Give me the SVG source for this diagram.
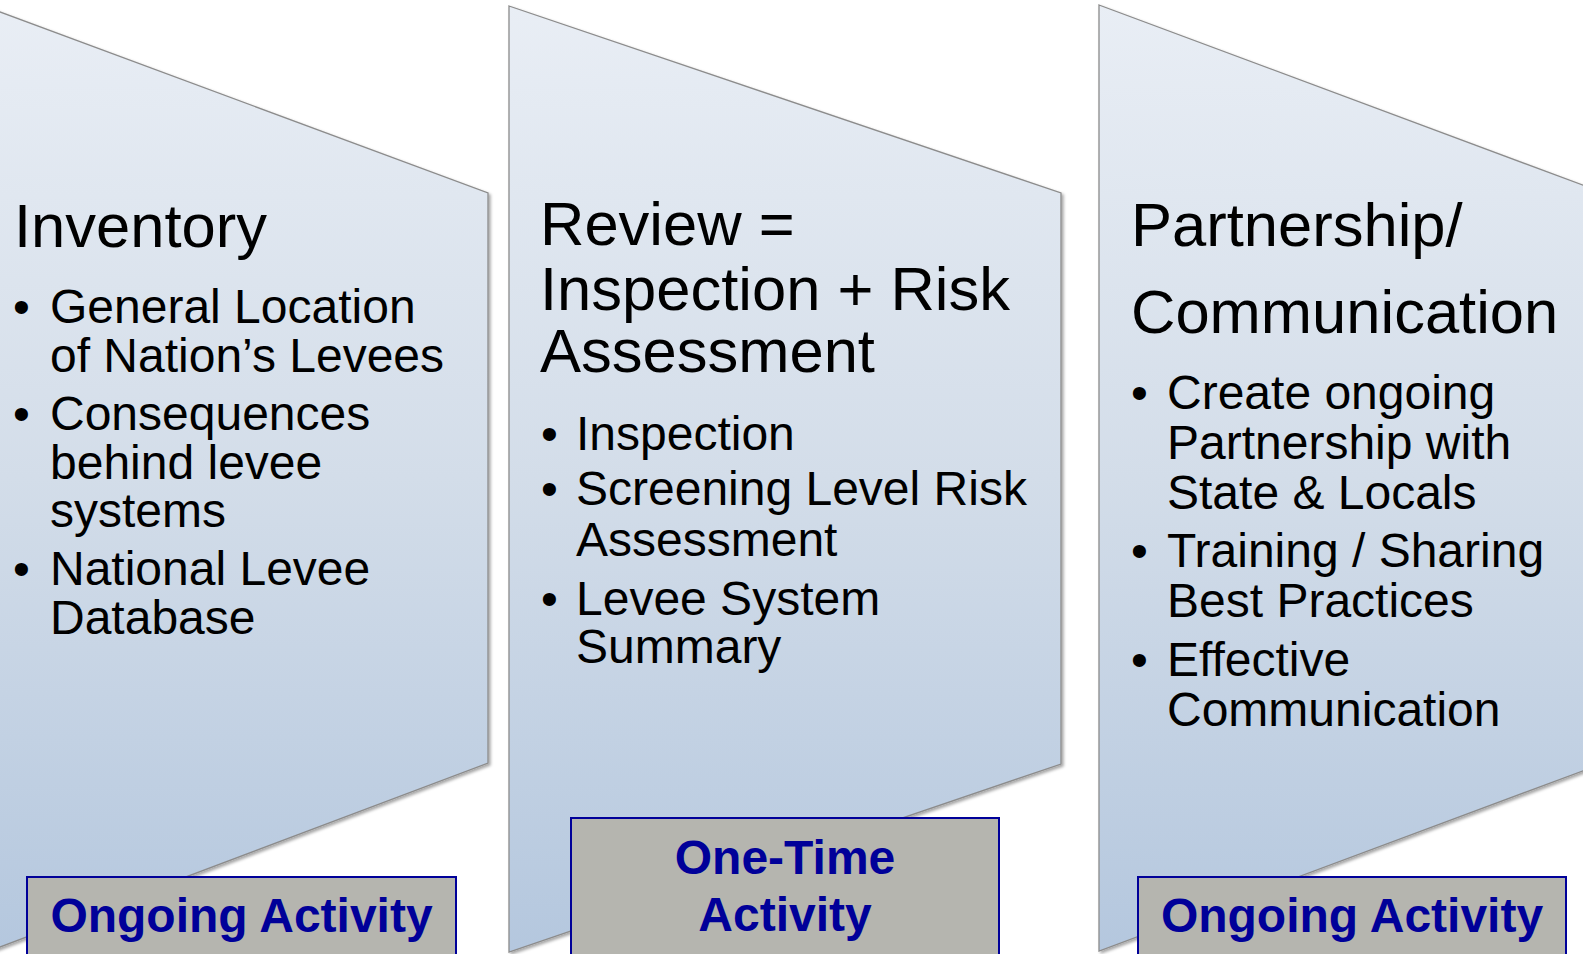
<svg xmlns="http://www.w3.org/2000/svg" width="1583" height="954" viewBox="0 0 1583 954">
<defs>
<linearGradient id="fillGrad" gradientUnits="userSpaceOnUse" x1="0" y1="0" x2="0" y2="954">
<stop offset="0" stop-color="#e9eef5"/>
<stop offset="0.5" stop-color="#d3dde9"/>
<stop offset="1" stop-color="#b4c7de"/>
</linearGradient>
<filter id="shadow" x="-5%" y="-5%" width="115%" height="115%">
<feDropShadow dx="2" dy="2" stdDeviation="1.5" flood-color="#000" flood-opacity="0.35"/>
</filter>
</defs>
<style>
.stage{fill:url(#fillGrad);stroke:#8c8c8c;stroke-width:1.3;filter:url(#shadow)}
.title{font-family:"Liberation Sans",Arial,sans-serif;font-size:61.5px;fill:#000}
.item{font-family:"Liberation Sans",Arial,sans-serif;font-size:48px;fill:#000}
.tag{fill:#b5b5af;stroke:#000099;stroke-width:2}
.tagtext{font-family:"Liberation Sans",Arial,sans-serif;font-size:48px;font-weight:bold;fill:#000099;text-anchor:middle}
</style>
<rect x="0" y="0" width="1583" height="954" fill="#fff"/>
<g id="connectors"/>
<g id="inventory">
<polygon class="stage" points="-16,6 488,193 488,763 -16,953"/>
<text class="title" x="14" y="247">Inventory</text>
<text class="item" x="13" y="323">•</text>
<text class="item" x="50" y="323">General Location</text>
<text class="item" x="50" y="372">of Nation’s Levees</text>
<text class="item" x="13" y="430">•</text>
<text class="item" x="50" y="430">Consequences</text>
<text class="item" x="50" y="479">behind levee</text>
<text class="item" x="50" y="527">systems</text>
<text class="item" x="13" y="585">•</text>
<text class="item" x="50" y="585">National Levee</text>
<text class="item" x="50" y="634">Database</text>
</g>
<g id="review">
<polygon class="stage" points="509,6 1061,193 1061,764 509,952"/>
<text class="title" x="540" y="245">Review =</text>
<text class="title" x="540" y="310">Inspection + Risk</text>
<text class="title" x="540" y="372">Assessment</text>
<text class="item" x="541" y="450">•</text>
<text class="item" x="576" y="450">Inspection</text>
<text class="item" x="541" y="505">•</text>
<text class="item" x="576" y="505">Screening Level Risk</text>
<text class="item" x="576" y="556">Assessment</text>
<text class="item" x="541" y="615">•</text>
<text class="item" x="576" y="615">Levee System</text>
<text class="item" x="576" y="663">Summary</text>
</g>
<g id="partnership">
<polygon class="stage" points="1099,5 1604,193 1604,763 1099,951"/>
<text class="title" x="1131" y="246">Partnership/</text>
<text class="title" x="1131" y="333">Communication</text>
<text class="item" x="1131" y="409">•</text>
<text class="item" x="1167" y="409">Create ongoing</text>
<text class="item" x="1167" y="459">Partnership with</text>
<text class="item" x="1167" y="509">State &amp; Locals</text>
<text class="item" x="1131" y="567">•</text>
<text class="item" x="1167" y="567">Training / Sharing</text>
<text class="item" x="1167" y="617">Best Practices</text>
<text class="item" x="1131" y="676">•</text>
<text class="item" x="1167" y="676">Effective</text>
<text class="item" x="1167" y="726">Communication</text>
</g>
<g id="tag-ongoing-1">
<rect class="tag" x="27" y="877" width="429" height="90"/>
<text class="tagtext" x="241.5" y="932">Ongoing Activity</text>
</g>
<g id="tag-onetime">
<rect class="tag" x="571" y="818" width="428" height="150"/>
<text class="tagtext" x="785" y="874">One-Time</text>
<text class="tagtext" x="785" y="931">Activity</text>
</g>
<g id="tag-ongoing-2">
<rect class="tag" x="1138" y="877" width="428" height="90"/>
<text class="tagtext" x="1352" y="932">Ongoing Activity</text>
</g>
</svg>
